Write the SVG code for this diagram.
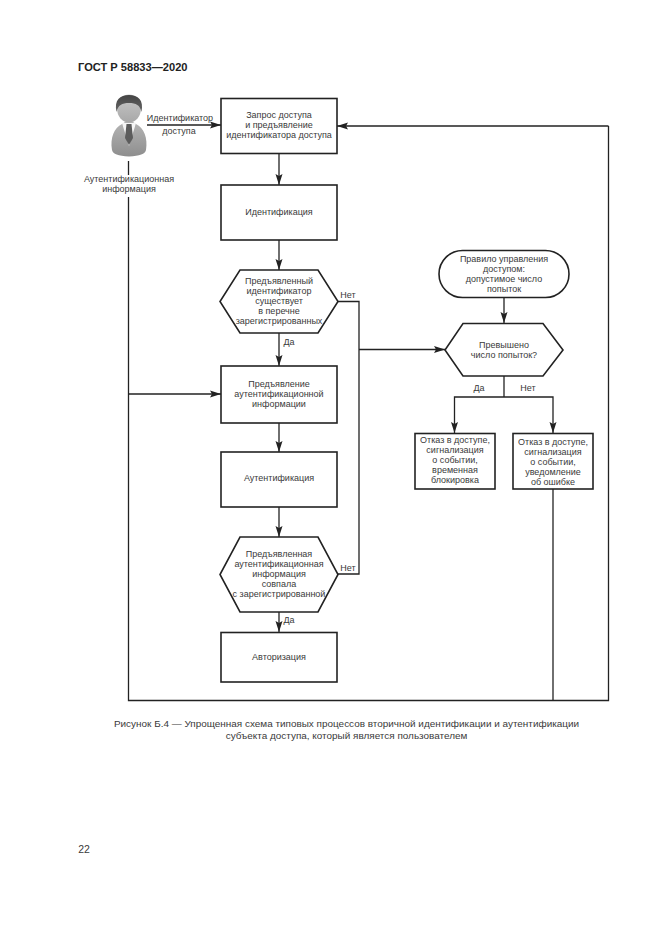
<svg xmlns="http://www.w3.org/2000/svg" width="661" height="935" viewBox="0 0 661 935">
<defs>
<marker id="arr" markerUnits="userSpaceOnUse" markerWidth="12" markerHeight="8" refX="11" refY="4" orient="auto"><path d="M0 0.5L11 4L0 7.500L2 4Z" fill="#222"/></marker>
<linearGradient id="hair" x1="0" y1="0" x2="0" y2="1"><stop offset="0" stop-color="#444"/><stop offset="1" stop-color="#666"/></linearGradient>
<linearGradient id="face" x1="0" y1="0" x2="0" y2="1"><stop offset="0" stop-color="#c8c8c8"/><stop offset="1" stop-color="#a8a8a8"/></linearGradient>
<linearGradient id="body" x1="0" y1="0" x2="0" y2="1"><stop offset="0" stop-color="#b4b4b4"/><stop offset="1" stop-color="#8e8e8e"/></linearGradient>
</defs>
<style>
text{font-family:"Liberation Sans",Arial,sans-serif;font-size:9px;fill:#3a3a3a;text-anchor:middle}
.s{fill:#fff;stroke:#222;stroke-width:1.600}
.c{fill:none;stroke:#222;stroke-width:1.300}
.a{marker-end:url(#arr)}
.cap{font-size:9.950px}
</style>
<rect width="661" height="935" fill="#fff"/>
<text x="78" y="71" style="text-anchor:start;font-weight:bold;font-size:11.100px;fill:#222">ГОСТ Р 58833—2020</text>
<g id="connectors">
<path class="c a" d="M147 125H221"/>
<path class="c a" d="M279 153V185"/>
<path class="c a" d="M279 240V270"/>
<path class="c a" d="M279 333V366"/>
<path class="c a" d="M279 423V452"/>
<path class="c a" d="M279 507V537"/>
<path class="c a" d="M279 612V632"/>
<path class="c" d="M338 301.500H359V574H338"/>
<path class="c a" d="M359 349.500H445"/>
<path class="c a" d="M504 297V323"/>
<path class="c" d="M504 376V397"/>
<path class="c a" d="M504 397H454.500V433"/>
<path class="c a" d="M504 397H553V433"/>
<path class="c" d="M128.500 161V175"/>
<path class="c" d="M128.500 197V700.500H608.500V126"/>
<path class="c" d="M553 489V700"/>
<path class="c a" d="M608.500 126H337"/>
<path class="c a" d="M128.500 394H221"/>
</g>
<g id="user">
<path d="M112 150C110 138 114 128 122 124L125 122H133L136 124C144 128 148 138 146 150C145 154 140 156 129 156.500C118 156 113 154 112 150Z" fill="url(#body)"/>
<path d="M122 123L129 146L136 123Z" fill="#f6f6f6"/>
<path d="M126.500 124H131.500L133 138L129 145L125 138Z" fill="#5c5c5c"/>
<ellipse cx="129" cy="108.500" rx="12" ry="14" fill="url(#face)"/>
<path d="M116.500 112C114 100 120 95 129 95C138 95 144 100 141.500 112C140 105 136 103 129 103C122 103 118 105 116.500 112Z" fill="url(#hair)"/>
</g>
<text x="180" y="121">Идентификатор</text>
<text x="179" y="134">доступа</text>
<text x="129" y="182">Аутентификационная</text>
<text x="129" y="192">информация</text>
<g id="n1"><rect class="s" x="221" y="98.500" width="116" height="55"/><text x="279" y="118">Запрос доступа</text><text x="279" y="128">и предъявление</text><text x="279" y="138">идентификатора доступа</text></g>
<g id="n2"><rect class="s" x="221" y="185" width="116" height="55"/><text x="279" y="215">Идентификация</text></g>
<g id="n3"><path class="s" d="M240 270H318L338 301.500L318 333H240L220 301.500Z"/><text x="279" y="284">Предъявленный</text><text x="279" y="294">идентификатор</text><text x="279" y="304">существует</text><text x="279" y="314">в перечне</text><text x="279" y="324">зарегистрированных</text></g>
<g id="n4"><rect class="s" x="221" y="366" width="116" height="57"/><text x="279" y="386.500">Предъявление</text><text x="279" y="396.500">аутентификационной</text><text x="279" y="406.500">информации</text></g>
<g id="n5"><rect class="s" x="221" y="452" width="116" height="55"/><text x="279" y="481">Аутентификация</text></g>
<g id="n6"><path class="s" d="M240 537H318L338 574.500L318 612H240L220 574.500Z"/><text x="279" y="557">Предъявленная</text><text x="279" y="567">аутентификационная</text><text x="279" y="577">информация</text><text x="279" y="587">совпала</text><text x="279" y="597">с зарегистрированной</text></g>
<g id="n7"><rect class="s" x="221" y="632.500" width="116" height="49.500"/><text x="279" y="660">Авторизация</text></g>
<g id="n8"><rect class="s" x="439" y="250.500" width="130" height="47" rx="23.500"/><text x="504" y="262">Правило управления</text><text x="504" y="272">доступом:</text><text x="504" y="282">допустимое число</text><text x="504" y="292">попыток</text></g>
<g id="n9"><path class="s" d="M463 323.500H543L563 350L543 376H463L445 350Z"/><text x="504" y="348">Превышено</text><text x="504" y="358">число попыток?</text></g>
<g id="n10"><rect class="s" x="415" y="433.500" width="80" height="55.500"/><text x="455" y="443">Отказ в доступе,</text><text x="455" y="453">сигнализация</text><text x="455" y="463">о событии,</text><text x="455" y="473">временная</text><text x="455" y="483">блокировка</text></g>
<g id="n11"><rect class="s" x="513" y="433.500" width="80" height="55.500"/><text x="553" y="444.500">Отказ в доступе,</text><text x="553" y="454.500">сигнализация</text><text x="553" y="464.500">о событии,</text><text x="553" y="474.500">уведомление</text><text x="553" y="484.500">об ошибке</text></g>
<text x="348" y="298">Нет</text>
<text x="289" y="345">Да</text>
<text x="348" y="571">Нет</text>
<text x="289" y="623">Да</text>
<text x="479" y="391">Да</text>
<text x="528" y="391">Нет</text>
<text class="cap" x="346.500" y="726.500">Рисунок Б.4 — Упрощенная схема типовых процессов вторичной идентификации и аутентификации</text>
<text class="cap" x="346.500" y="738.500">субъекта доступа, который является пользователем</text>
<text x="84" y="853" style="font-size:10.500px">22</text>
</svg>
